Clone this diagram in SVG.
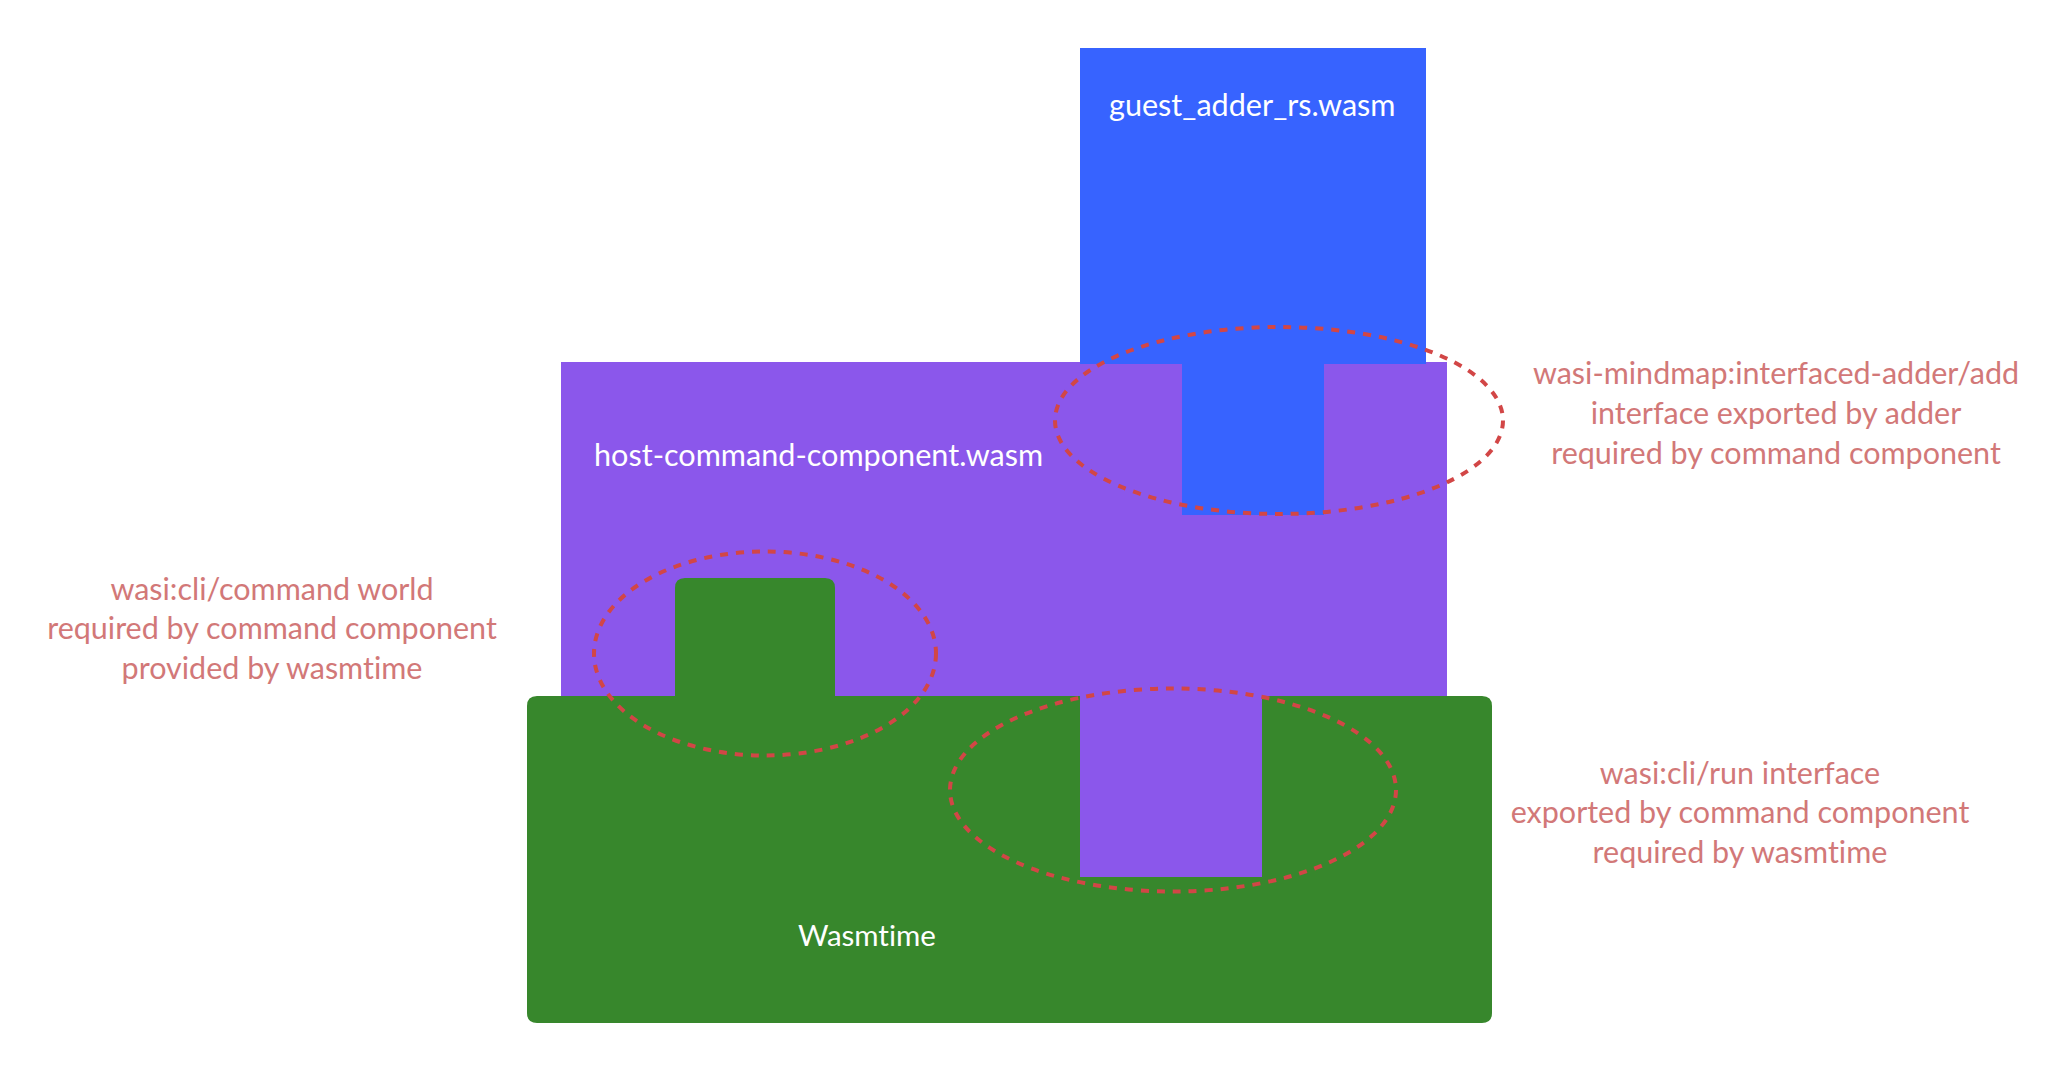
<svg xmlns="http://www.w3.org/2000/svg" width="2068" height="1072" viewBox="0 0 2068 1072">
<style>
.lbl{font-family:Lato,"Noto Sans","Liberation Sans",sans-serif;font-size:30.6px;fill:#ffffff;font-variant-ligatures:none;font-feature-settings:"liga" 0,"clig" 0,"dlig" 0}
.note{font-family:Lato,"Noto Sans","Liberation Sans",sans-serif;font-size:30.5px;fill:#d27878;text-anchor:middle;font-variant-ligatures:none;font-feature-settings:"liga" 0,"clig" 0,"dlig" 0}
.ring{fill:none;stroke:#d24646;stroke-width:4;stroke-dasharray:8 8}
</style>
<rect width="2068" height="1072" fill="#ffffff"/>
<g id="host-command-component">
<path d="M561,362 H1447 V700 H1262 V877 H1080 V700 H561 Z" fill="#8b57eb"/>
<text class="lbl" x="594" y="466">host-command-component.wasm</text>
</g>
<g id="wasmtime">
<path d="M527,706 Q527,696 537,696 H675 V588 Q675,578 685,578 H825 Q835,578 835,588 V696 H1080 V877 H1262 V696 H1482 Q1492,696 1492,706 V1013 Q1492,1023 1482,1023 H537 Q527,1023 527,1013 Z" fill="#37872c"/>
<text class="lbl" x="798" y="946" style="font-size:29.5px">Wasmtime</text>
</g>
<g id="guest-adder">
<path d="M1080,48 H1426 V364 H1324 V515 H1182 V364 H1080 Z" fill="#3763ff"/>
<text class="lbl" x="1109" y="116">guest_adder_rs.wasm</text>
</g>
<g id="connectors">
<ellipse class="ring" cx="1279" cy="420.5" rx="224" ry="93.5"/>
<ellipse class="ring" cx="765" cy="653.5" rx="171" ry="102"/>
<ellipse class="ring" cx="1173" cy="790" rx="223" ry="101.5"/>
</g>
<g id="note-add">
<text class="note" x="1776" y="384">wasi-mindmap:interfaced-adder/add</text>
<text class="note" x="1776" y="424">interface exported by adder</text>
<text class="note" x="1776" y="464">required by command component</text>
</g>
<g id="note-command">
<text class="note" x="272" y="600">wasi:cli/command world</text>
<text class="note" x="272" y="639">required by command component</text>
<text class="note" x="272" y="679">provided by wasmtime</text>
</g>
<g id="note-run">
<text class="note" x="1740" y="784">wasi:cli/run interface</text>
<text class="note" x="1740" y="823">exported by command component</text>
<text class="note" x="1740" y="863">required by wasmtime</text>
</g>
</svg>
